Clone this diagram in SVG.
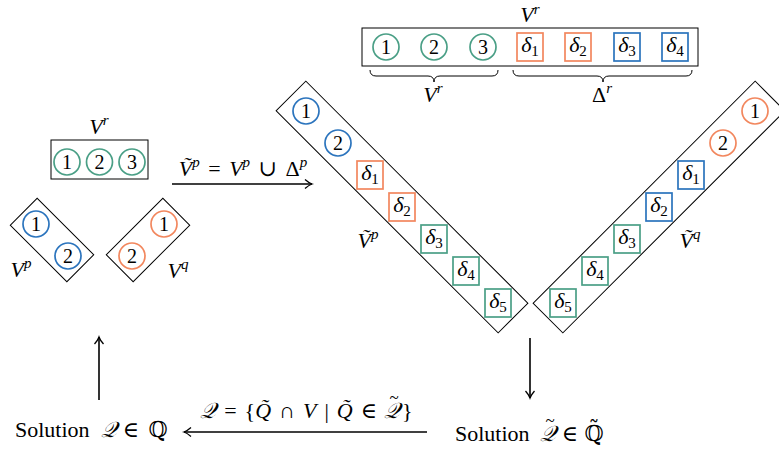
<svg xmlns="http://www.w3.org/2000/svg" width="779" height="452" viewBox="0 0 779 452">
<defs>
<style>
text{font-family:'Liberation Serif','DejaVu Serif',serif;font-size:22px;fill:#000}
.m{font-style:italic}
.d{font-size:20px;text-anchor:middle}
.dl{font-size:22px;text-anchor:middle;font-style:italic}
.sup{font-size:15px;font-style:italic}
.sub{font-size:15px;font-style:normal}
.tl{font-size:17px;text-anchor:middle}
.box{fill:none;stroke:#000;stroke-width:1}
.cg{fill:#fff;stroke:#4a9f86;stroke-width:1.7}
.co{fill:#fff;stroke:#f2875e;stroke-width:1.7}
.cb{fill:#fff;stroke:#2b74bd;stroke-width:1.7}
.arr{stroke:#000;stroke-width:1.6;fill:none;marker-end:url(#ah)}
.brace{fill:none;stroke:#000;stroke-width:1}
</style>
<marker id="ah" markerWidth="12" markerHeight="12" viewBox="-8 -6 10 12" refX="0" refY="0" orient="auto" markerUnits="userSpaceOnUse">
<path d="M-7,-4.5 Q-3,-1 0,0 Q-3,1 -7,4.5" fill="none" stroke="#000" stroke-width="1.3"/>
</marker>
</defs>

<g id="vr-small">
<rect class="box" x="51" y="140" width="97" height="39"/>
<circle class="cg" cx="67" cy="162" r="13"/><text class="d" x="67" y="169">1</text>
<circle class="cg" cx="99.5" cy="162" r="13"/><text class="d" x="99.5" y="169">2</text>
<circle class="cg" cx="132" cy="162" r="13"/><text class="d" x="132" y="169">3</text>
<text x="99" y="134" text-anchor="middle"><tspan class="m">V</tspan><tspan class="sup" dy="-9">r</tspan></text>
</g>

<g id="vp-small">
<rect class="box" x="12" y="221" width="80" height="38" transform="rotate(45 52 240)"/>
<circle class="cb" cx="36" cy="224" r="13"/><text class="d" x="36" y="231">1</text>
<circle class="cb" cx="68" cy="256" r="13"/><text class="d" x="68" y="263">2</text>
<text x="21" y="277" text-anchor="middle"><tspan class="m">V</tspan><tspan class="sup" dy="-9">p</tspan></text>
</g>

<g id="vq-small">
<rect class="box" x="108" y="221" width="80" height="38" transform="rotate(-45 148 240)"/>
<circle class="co" cx="164" cy="224" r="13"/><text class="d" x="164" y="231">1</text>
<circle class="co" cx="132" cy="256" r="13"/><text class="d" x="132" y="263">2</text>
<text x="178" y="278" text-anchor="middle"><tspan class="m">V</tspan><tspan class="sup" dy="-9">q</tspan></text>
</g>

<g id="vr-top">
<text x="530" y="22" text-anchor="middle"><tspan class="m">V</tspan><tspan class="sup" dy="-8">r</tspan></text>
<rect class="box" x="362" y="28" width="336" height="38"/>
<circle class="cg" cx="386" cy="47" r="13"/><text class="d" x="386" y="54">1</text>
<circle class="cg" cx="434" cy="47" r="13"/><text class="d" x="434" y="54">2</text>
<circle class="cg" cx="483" cy="47" r="13"/><text class="d" x="483" y="54">3</text>
<rect class="co" x="517" y="33" width="26" height="28"/><text class="dl" x="530" y="52">δ<tspan class="sub" dy="4">1</tspan></text>
<rect class="co" x="565" y="33" width="26" height="28"/><text class="dl" x="578" y="52">δ<tspan class="sub" dy="4">2</tspan></text>
<rect class="cb" x="614" y="33" width="26" height="28"/><text class="dl" x="627" y="52">δ<tspan class="sub" dy="4">3</tspan></text>
<rect class="cb" x="662" y="33" width="26" height="28"/><text class="dl" x="675" y="52">δ<tspan class="sub" dy="4">4</tspan></text>
<path class="brace" d="M370,70 q0,6 6,6 L428,76 q6,0 6,6 q0,-6 6,-6 L492,76 q6,0 6,-6"/>
<path class="brace" d="M513,70 q0,6 6,6 L597,76 q6,0 6,6 q0,-6 6,-6 L686,76 q6,0 6,-6"/>
<text x="433" y="102" text-anchor="middle"><tspan class="m">V</tspan><tspan class="sup" dy="-9">r</tspan></text>
<text x="602" y="102" text-anchor="middle">Δ<tspan class="sup" dy="-9">r</tspan></text>
</g>

<g id="vp-tilde">
<rect class="box" x="245" y="186" width="314" height="42" transform="rotate(45 402 207)"/>
<circle class="cb" cx="306" cy="111" r="13"/><text class="d" x="306" y="118">1</text>
<circle class="cb" cx="338" cy="143" r="13"/><text class="d" x="338" y="150">2</text>
<rect class="co" x="357" y="161" width="26" height="28"/><text class="dl" x="370" y="180">δ<tspan class="sub" dy="4">1</tspan></text>
<rect class="co" x="389" y="193" width="26" height="28"/><text class="dl" x="402" y="212">δ<tspan class="sub" dy="4">2</tspan></text>
<rect class="cg" x="421" y="225" width="26" height="28"/><text class="dl" x="434" y="244">δ<tspan class="sub" dy="4">3</tspan></text>
<rect class="cg" x="453" y="257" width="26" height="28"/><text class="dl" x="466" y="276">δ<tspan class="sub" dy="4">4</tspan></text>
<rect class="cg" x="485" y="289" width="26" height="28"/><text class="dl" x="498" y="308">δ<tspan class="sub" dy="4">5</tspan></text>
<text x="368" y="248" text-anchor="middle"><tspan class="m">V&#x303;</tspan><tspan class="sup" dy="-9">p</tspan></text>
</g>

<g id="vq-tilde">
<rect class="box" x="502" y="186" width="314" height="42" transform="rotate(-45 659 207)"/>
<circle class="co" cx="755" cy="111" r="13"/><text class="d" x="755" y="118">1</text>
<circle class="co" cx="723" cy="143" r="13"/><text class="d" x="723" y="150">2</text>
<rect class="cb" x="678" y="161" width="26" height="28"/><text class="dl" x="691" y="180">δ<tspan class="sub" dy="4">1</tspan></text>
<rect class="cb" x="646" y="193" width="26" height="28"/><text class="dl" x="659" y="212">δ<tspan class="sub" dy="4">2</tspan></text>
<rect class="cg" x="614" y="225" width="26" height="28"/><text class="dl" x="627" y="244">δ<tspan class="sub" dy="4">3</tspan></text>
<rect class="cg" x="582" y="257" width="26" height="28"/><text class="dl" x="595" y="276">δ<tspan class="sub" dy="4">4</tspan></text>
<rect class="cg" x="550" y="289" width="26" height="28"/><text class="dl" x="563" y="308">δ<tspan class="sub" dy="4">5</tspan></text>
<text x="690" y="248" text-anchor="middle"><tspan class="m">V&#x303;</tspan><tspan class="sup" dy="-9">q</tspan></text>
</g>

<g id="sol-tilde">
<text x="455" y="441" font-size="23">Solution</text>
<text x="548" y="441" text-anchor="middle" class="m">𝒬</text>
<text class="tl" x="550" y="426">~</text>
<text x="570" y="441" text-anchor="middle">∈</text>
<text x="594" y="441" text-anchor="middle">ℚ&#x303;</text>
</g>

<g id="sol">
<text x="15" y="437" font-size="23">Solution</text>
<text x="109" y="437" text-anchor="middle" class="m">𝒬</text>
<text x="131" y="437" text-anchor="middle">∈</text>
<text x="158" y="437" text-anchor="middle">ℚ</text>
</g>

<g id="connectors">
<path class="arr" d="M172,184 H312"/>
<text x="243" y="176" text-anchor="middle" word-spacing="3"><tspan class="m">V&#x303;</tspan><tspan class="sup" dy="-9">p</tspan><tspan dy="9"> = </tspan><tspan class="m">V</tspan><tspan class="sup" dy="-9">p</tspan><tspan dy="9"> ∪ Δ</tspan><tspan class="sup" dy="-9">p</tspan></text>
<path class="arr" d="M530,338 V398"/>
<path class="arr" d="M99,400 V337"/>
<path class="arr" d="M427,432 H184"/>
<text x="377" y="418" text-anchor="end" word-spacing="2.5"><tspan class="m">𝒬</tspan> = {<tspan class="m">Q&#x303;</tspan> ∩ <tspan class="m">V</tspan> | <tspan class="m">Q&#x303;</tspan> ∈</text>
<text x="392" y="418" text-anchor="middle" class="m">𝒬</text>
<text class="tl" x="394" y="403">~</text>
<text x="402" y="418">}</text>
</g>
</svg>
